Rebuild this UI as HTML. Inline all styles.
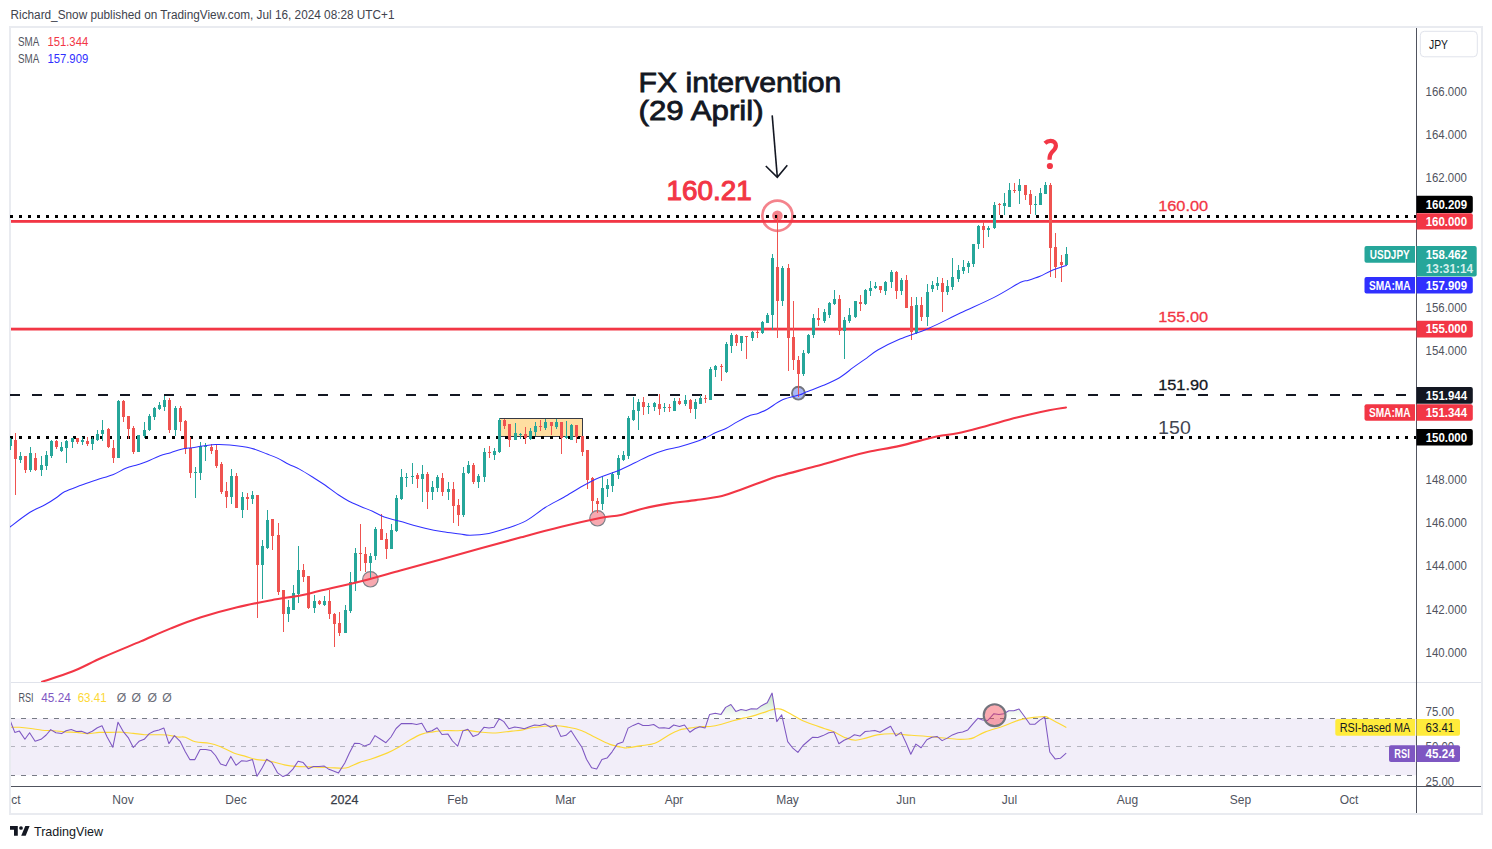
<!DOCTYPE html><html><head><meta charset="utf-8"><title>USDJPY</title><style>html,body{margin:0;padding:0;background:#fff;width:1492px;height:849px;overflow:hidden}svg{display:block}text{font-family:"Liberation Sans",sans-serif}</style></head><body>
<svg width="1492" height="849" viewBox="0 0 1492 849">
<rect x="0" y="0" width="1492" height="849" fill="#fff"/>
<defs><clipPath id="main"><rect x="10" y="28" width="1406" height="654"/></clipPath><clipPath id="rsi"><rect x="11" y="683" width="1405" height="103"/></clipPath><clipPath id="above70"><rect x="11" y="683" width="1405" height="35.5"/></clipPath><linearGradient id="g70" gradientUnits="userSpaceOnUse" x1="0" y1="682" x2="0" y2="718.5"><stop offset="0" stop-color="#4caf50" stop-opacity="0.5"/><stop offset="1" stop-color="#4caf50" stop-opacity="0"/></linearGradient></defs>
<text x="10.5" y="18.8" font-size="12.3" fill="#40434d" textLength="384" lengthAdjust="spacingAndGlyphs">Richard_Snow published on TradingView.com, Jul 16, 2024 08:28 UTC+1</text>
<rect x="10" y="27" width="1472" height="787" fill="none" stroke="#e9ebf0" stroke-width="2"/>
<g clip-path="url(#main)">
<rect x="499.5" y="418.5" width="83" height="18" fill="#ffdea1" stroke="#363a45" stroke-width="1"/>
<circle cx="777.4" cy="215.7" r="15.1" fill="none" stroke="#f26d78" stroke-opacity="0.85" stroke-width="2.7"/>
<circle cx="777.4" cy="215.7" r="5.3" fill="#f26d78" fill-opacity="0.85"/>
<rect x="11" y="220" width="1405" height="2.8" fill="#f23645"/>
<rect x="11" y="327.7" width="1405" height="2.8" fill="#f23645"/>
<line x1="10" y1="216.5" x2="1416" y2="216.5" stroke="#000" stroke-width="3" stroke-dasharray="3 6"/>
<line x1="10" y1="437.5" x2="1416" y2="437.5" stroke="#000" stroke-width="3" stroke-dasharray="3 6"/>
<line x1="10" y1="395" x2="1410" y2="395" stroke="#131722" stroke-width="2.2" stroke-dasharray="10 12"/>
<circle cx="370.4" cy="579.3" r="7.7" fill="#f7a9b0" stroke="#7d7f88" stroke-width="1.2"/>
<circle cx="597.5" cy="518.3" r="7.7" fill="#f7a9b0" stroke="#7d7f88" stroke-width="1.2"/>
<circle cx="798.4" cy="393.2" r="6.4" fill="#a9b8f7" stroke="#72747d" stroke-width="1.9"/>
<rect x="10" y="438" width="1" height="12" fill="#26a69a"/>
<rect x="9" y="439" width="3" height="7" fill="#26a69a"/>
<rect x="15" y="433" width="1" height="62" fill="#ef5350"/>
<rect x="14" y="440" width="3" height="19" fill="#ef5350"/>
<rect x="20" y="452" width="1" height="11" fill="#26a69a"/>
<rect x="19" y="456" width="3" height="4" fill="#26a69a"/>
<rect x="25" y="456" width="1" height="17" fill="#ef5350"/>
<rect x="24" y="456" width="3" height="14" fill="#ef5350"/>
<rect x="30" y="447" width="1" height="25" fill="#26a69a"/>
<rect x="29" y="453" width="3" height="17" fill="#26a69a"/>
<rect x="35" y="453" width="1" height="18" fill="#ef5350"/>
<rect x="34" y="458" width="3" height="12" fill="#ef5350"/>
<rect x="41" y="456" width="1" height="20" fill="#26a69a"/>
<rect x="40" y="465" width="3" height="5" fill="#26a69a"/>
<rect x="46" y="451" width="1" height="19" fill="#26a69a"/>
<rect x="45" y="455" width="3" height="11" fill="#26a69a"/>
<rect x="51" y="440" width="1" height="18" fill="#26a69a"/>
<rect x="50" y="441" width="3" height="15" fill="#26a69a"/>
<rect x="56" y="440" width="1" height="9" fill="#ef5350"/>
<rect x="55" y="441" width="3" height="6" fill="#ef5350"/>
<rect x="61" y="442" width="1" height="10" fill="#26a69a"/>
<rect x="60" y="447" width="3" height="4" fill="#26a69a"/>
<rect x="66" y="440" width="1" height="23" fill="#26a69a"/>
<rect x="65" y="441" width="3" height="7" fill="#26a69a"/>
<rect x="72" y="438" width="1" height="10" fill="#26a69a"/>
<rect x="71" y="438" width="3" height="4" fill="#26a69a"/>
<rect x="77" y="438" width="1" height="6" fill="#ef5350"/>
<rect x="76" y="438" width="3" height="4" fill="#ef5350"/>
<rect x="82" y="437" width="1" height="8" fill="#26a69a"/>
<rect x="81" y="440" width="3" height="2" fill="#26a69a"/>
<rect x="87" y="437" width="1" height="9" fill="#ef5350"/>
<rect x="86" y="441" width="3" height="3" fill="#ef5350"/>
<rect x="92" y="437" width="1" height="13" fill="#26a69a"/>
<rect x="91" y="439" width="3" height="5" fill="#26a69a"/>
<rect x="97" y="430" width="1" height="11" fill="#26a69a"/>
<rect x="96" y="434" width="3" height="6" fill="#26a69a"/>
<rect x="102" y="420" width="1" height="21" fill="#26a69a"/>
<rect x="101" y="430" width="3" height="4" fill="#26a69a"/>
<rect x="108" y="428" width="1" height="20" fill="#ef5350"/>
<rect x="107" y="429" width="3" height="18" fill="#ef5350"/>
<rect x="113" y="440" width="1" height="23" fill="#ef5350"/>
<rect x="112" y="448" width="3" height="10" fill="#ef5350"/>
<rect x="118" y="400" width="1" height="58" fill="#26a69a"/>
<rect x="117" y="401" width="3" height="57" fill="#26a69a"/>
<rect x="123" y="400" width="1" height="22" fill="#ef5350"/>
<rect x="122" y="401" width="3" height="16" fill="#ef5350"/>
<rect x="128" y="416" width="1" height="23" fill="#ef5350"/>
<rect x="127" y="416" width="3" height="13" fill="#ef5350"/>
<rect x="133" y="426" width="1" height="28" fill="#ef5350"/>
<rect x="132" y="428" width="3" height="24" fill="#ef5350"/>
<rect x="138" y="435" width="1" height="17" fill="#26a69a"/>
<rect x="137" y="435" width="3" height="17" fill="#26a69a"/>
<rect x="144" y="422" width="1" height="16" fill="#26a69a"/>
<rect x="143" y="430" width="3" height="6" fill="#26a69a"/>
<rect x="149" y="414" width="1" height="17" fill="#26a69a"/>
<rect x="148" y="416" width="3" height="14" fill="#26a69a"/>
<rect x="154" y="407" width="1" height="13" fill="#26a69a"/>
<rect x="153" y="408" width="3" height="9" fill="#26a69a"/>
<rect x="159" y="402" width="1" height="8" fill="#26a69a"/>
<rect x="158" y="405" width="3" height="4" fill="#26a69a"/>
<rect x="164" y="396" width="1" height="15" fill="#26a69a"/>
<rect x="163" y="400" width="3" height="7" fill="#26a69a"/>
<rect x="169" y="398" width="1" height="35" fill="#ef5350"/>
<rect x="168" y="400" width="3" height="30" fill="#ef5350"/>
<rect x="175" y="406" width="1" height="30" fill="#26a69a"/>
<rect x="174" y="408" width="3" height="22" fill="#26a69a"/>
<rect x="180" y="406" width="1" height="25" fill="#ef5350"/>
<rect x="179" y="408" width="3" height="14" fill="#ef5350"/>
<rect x="185" y="420" width="1" height="34" fill="#ef5350"/>
<rect x="184" y="421" width="3" height="28" fill="#ef5350"/>
<rect x="190" y="437" width="1" height="41" fill="#ef5350"/>
<rect x="189" y="448" width="3" height="25" fill="#ef5350"/>
<rect x="195" y="467" width="1" height="31" fill="#26a69a"/>
<rect x="194" y="472" width="3" height="1" fill="#26a69a"/>
<rect x="200" y="442" width="1" height="38" fill="#26a69a"/>
<rect x="199" y="446" width="3" height="27" fill="#26a69a"/>
<rect x="205" y="443" width="1" height="18" fill="#26a69a"/>
<rect x="204" y="446" width="3" height="1" fill="#26a69a"/>
<rect x="211" y="444" width="1" height="10" fill="#ef5350"/>
<rect x="210" y="447" width="3" height="4" fill="#ef5350"/>
<rect x="216" y="445" width="1" height="23" fill="#ef5350"/>
<rect x="215" y="450" width="3" height="16" fill="#ef5350"/>
<rect x="221" y="462" width="1" height="32" fill="#ef5350"/>
<rect x="220" y="464" width="3" height="28" fill="#ef5350"/>
<rect x="226" y="482" width="1" height="26" fill="#ef5350"/>
<rect x="225" y="491" width="3" height="6" fill="#ef5350"/>
<rect x="231" y="469" width="1" height="35" fill="#26a69a"/>
<rect x="230" y="476" width="3" height="21" fill="#26a69a"/>
<rect x="236" y="473" width="1" height="35" fill="#ef5350"/>
<rect x="235" y="476" width="3" height="32" fill="#ef5350"/>
<rect x="242" y="492" width="1" height="26" fill="#26a69a"/>
<rect x="241" y="497" width="3" height="13" fill="#26a69a"/>
<rect x="247" y="493" width="1" height="17" fill="#ef5350"/>
<rect x="246" y="497" width="3" height="2" fill="#ef5350"/>
<rect x="252" y="491" width="1" height="13" fill="#26a69a"/>
<rect x="251" y="495" width="3" height="4" fill="#26a69a"/>
<rect x="257" y="495" width="1" height="123" fill="#ef5350"/>
<rect x="256" y="495" width="3" height="70" fill="#ef5350"/>
<rect x="262" y="540" width="1" height="59" fill="#26a69a"/>
<rect x="261" y="546" width="3" height="19" fill="#26a69a"/>
<rect x="267" y="510" width="1" height="39" fill="#26a69a"/>
<rect x="266" y="520" width="3" height="28" fill="#26a69a"/>
<rect x="272" y="519" width="1" height="31" fill="#ef5350"/>
<rect x="271" y="519" width="3" height="17" fill="#ef5350"/>
<rect x="278" y="523" width="1" height="72" fill="#ef5350"/>
<rect x="277" y="535" width="3" height="57" fill="#ef5350"/>
<rect x="283" y="590" width="1" height="42" fill="#ef5350"/>
<rect x="282" y="590" width="3" height="24" fill="#ef5350"/>
<rect x="288" y="600" width="1" height="22" fill="#26a69a"/>
<rect x="287" y="607" width="3" height="7" fill="#26a69a"/>
<rect x="293" y="585" width="1" height="25" fill="#26a69a"/>
<rect x="292" y="593" width="3" height="17" fill="#26a69a"/>
<rect x="298" y="546" width="1" height="57" fill="#26a69a"/>
<rect x="297" y="570" width="3" height="24" fill="#26a69a"/>
<rect x="303" y="564" width="1" height="18" fill="#ef5350"/>
<rect x="302" y="570" width="3" height="7" fill="#ef5350"/>
<rect x="308" y="576" width="1" height="33" fill="#ef5350"/>
<rect x="307" y="576" width="3" height="32" fill="#ef5350"/>
<rect x="314" y="595" width="1" height="18" fill="#26a69a"/>
<rect x="313" y="601" width="3" height="7" fill="#26a69a"/>
<rect x="319" y="600" width="1" height="5" fill="#ef5350"/>
<rect x="318" y="601" width="3" height="3" fill="#ef5350"/>
<rect x="324" y="596" width="1" height="10" fill="#26a69a"/>
<rect x="323" y="601" width="3" height="4" fill="#26a69a"/>
<rect x="329" y="590" width="1" height="29" fill="#ef5350"/>
<rect x="328" y="601" width="3" height="13" fill="#ef5350"/>
<rect x="334" y="613" width="1" height="34" fill="#ef5350"/>
<rect x="333" y="614" width="3" height="10" fill="#ef5350"/>
<rect x="339" y="612" width="1" height="24" fill="#ef5350"/>
<rect x="338" y="623" width="3" height="10" fill="#ef5350"/>
<rect x="345" y="605" width="1" height="28" fill="#26a69a"/>
<rect x="344" y="610" width="3" height="23" fill="#26a69a"/>
<rect x="350" y="572" width="1" height="41" fill="#26a69a"/>
<rect x="349" y="582" width="3" height="29" fill="#26a69a"/>
<rect x="355" y="548" width="1" height="43" fill="#26a69a"/>
<rect x="354" y="553" width="3" height="30" fill="#26a69a"/>
<rect x="360" y="524" width="1" height="47" fill="#ef5350"/>
<rect x="359" y="553" width="3" height="1" fill="#ef5350"/>
<rect x="365" y="547" width="1" height="25" fill="#ef5350"/>
<rect x="364" y="554" width="3" height="9" fill="#ef5350"/>
<rect x="370" y="553" width="1" height="26" fill="#26a69a"/>
<rect x="369" y="556" width="3" height="7" fill="#26a69a"/>
<rect x="375" y="527" width="1" height="33" fill="#26a69a"/>
<rect x="374" y="529" width="3" height="27" fill="#26a69a"/>
<rect x="381" y="514" width="1" height="26" fill="#ef5350"/>
<rect x="380" y="529" width="3" height="11" fill="#ef5350"/>
<rect x="386" y="533" width="1" height="26" fill="#ef5350"/>
<rect x="385" y="539" width="3" height="10" fill="#ef5350"/>
<rect x="391" y="524" width="1" height="25" fill="#26a69a"/>
<rect x="390" y="530" width="3" height="19" fill="#26a69a"/>
<rect x="396" y="495" width="1" height="37" fill="#26a69a"/>
<rect x="395" y="498" width="3" height="33" fill="#26a69a"/>
<rect x="401" y="469" width="1" height="31" fill="#26a69a"/>
<rect x="400" y="477" width="3" height="22" fill="#26a69a"/>
<rect x="406" y="473" width="1" height="14" fill="#26a69a"/>
<rect x="405" y="477" width="3" height="1" fill="#26a69a"/>
<rect x="412" y="463" width="1" height="21" fill="#26a69a"/>
<rect x="411" y="476" width="3" height="1" fill="#26a69a"/>
<rect x="417" y="473" width="1" height="15" fill="#ef5350"/>
<rect x="416" y="475" width="3" height="4" fill="#ef5350"/>
<rect x="422" y="465" width="1" height="37" fill="#26a69a"/>
<rect x="421" y="474" width="3" height="5" fill="#26a69a"/>
<rect x="427" y="472" width="1" height="37" fill="#ef5350"/>
<rect x="426" y="474" width="3" height="18" fill="#ef5350"/>
<rect x="432" y="481" width="1" height="19" fill="#26a69a"/>
<rect x="431" y="487" width="3" height="5" fill="#26a69a"/>
<rect x="437" y="475" width="1" height="17" fill="#26a69a"/>
<rect x="436" y="477" width="3" height="11" fill="#26a69a"/>
<rect x="442" y="473" width="1" height="23" fill="#ef5350"/>
<rect x="441" y="478" width="3" height="14" fill="#ef5350"/>
<rect x="448" y="482" width="1" height="18" fill="#26a69a"/>
<rect x="447" y="489" width="3" height="3" fill="#26a69a"/>
<rect x="453" y="482" width="1" height="41" fill="#ef5350"/>
<rect x="452" y="489" width="3" height="17" fill="#ef5350"/>
<rect x="458" y="499" width="1" height="27" fill="#ef5350"/>
<rect x="457" y="505" width="3" height="10" fill="#ef5350"/>
<rect x="463" y="467" width="1" height="50" fill="#26a69a"/>
<rect x="462" y="473" width="3" height="42" fill="#26a69a"/>
<rect x="468" y="461" width="1" height="13" fill="#26a69a"/>
<rect x="467" y="465" width="3" height="8" fill="#26a69a"/>
<rect x="473" y="463" width="1" height="21" fill="#ef5350"/>
<rect x="472" y="465" width="3" height="17" fill="#ef5350"/>
<rect x="478" y="474" width="1" height="14" fill="#26a69a"/>
<rect x="477" y="476" width="3" height="6" fill="#26a69a"/>
<rect x="484" y="448" width="1" height="34" fill="#26a69a"/>
<rect x="483" y="452" width="3" height="25" fill="#26a69a"/>
<rect x="489" y="446" width="1" height="12" fill="#ef5350"/>
<rect x="488" y="452" width="3" height="1" fill="#ef5350"/>
<rect x="494" y="448" width="1" height="12" fill="#26a69a"/>
<rect x="493" y="451" width="3" height="4" fill="#26a69a"/>
<rect x="499" y="418" width="1" height="35" fill="#26a69a"/>
<rect x="498" y="420" width="3" height="32" fill="#26a69a"/>
<rect x="504" y="419" width="1" height="10" fill="#ef5350"/>
<rect x="503" y="420" width="3" height="6" fill="#ef5350"/>
<rect x="509" y="424" width="1" height="23" fill="#ef5350"/>
<rect x="508" y="424" width="3" height="16" fill="#ef5350"/>
<rect x="515" y="423" width="1" height="17" fill="#26a69a"/>
<rect x="514" y="433" width="3" height="7" fill="#26a69a"/>
<rect x="520" y="433" width="1" height="6" fill="#26a69a"/>
<rect x="519" y="434" width="3" height="1" fill="#26a69a"/>
<rect x="525" y="427" width="1" height="17" fill="#ef5350"/>
<rect x="524" y="434" width="3" height="4" fill="#ef5350"/>
<rect x="530" y="428" width="1" height="12" fill="#26a69a"/>
<rect x="529" y="431" width="3" height="8" fill="#26a69a"/>
<rect x="535" y="422" width="1" height="14" fill="#26a69a"/>
<rect x="534" y="426" width="3" height="6" fill="#26a69a"/>
<rect x="540" y="420" width="1" height="11" fill="#ef5350"/>
<rect x="539" y="426" width="3" height="1" fill="#ef5350"/>
<rect x="545" y="419" width="1" height="11" fill="#26a69a"/>
<rect x="544" y="422" width="3" height="6" fill="#26a69a"/>
<rect x="551" y="422" width="1" height="13" fill="#ef5350"/>
<rect x="550" y="422" width="3" height="4" fill="#ef5350"/>
<rect x="556" y="419" width="1" height="10" fill="#26a69a"/>
<rect x="555" y="422" width="3" height="5" fill="#26a69a"/>
<rect x="561" y="422" width="1" height="32" fill="#ef5350"/>
<rect x="560" y="422" width="3" height="16" fill="#ef5350"/>
<rect x="566" y="421" width="1" height="18" fill="#26a69a"/>
<rect x="565" y="436" width="3" height="2" fill="#26a69a"/>
<rect x="571" y="424" width="1" height="16" fill="#26a69a"/>
<rect x="570" y="425" width="3" height="15" fill="#26a69a"/>
<rect x="576" y="425" width="1" height="18" fill="#ef5350"/>
<rect x="575" y="425" width="3" height="12" fill="#ef5350"/>
<rect x="582" y="436" width="1" height="20" fill="#ef5350"/>
<rect x="581" y="436" width="3" height="16" fill="#ef5350"/>
<rect x="587" y="450" width="1" height="39" fill="#ef5350"/>
<rect x="586" y="450" width="3" height="30" fill="#ef5350"/>
<rect x="592" y="477" width="1" height="35" fill="#ef5350"/>
<rect x="591" y="478" width="3" height="23" fill="#ef5350"/>
<rect x="597" y="498" width="1" height="15" fill="#ef5350"/>
<rect x="596" y="501" width="3" height="3" fill="#ef5350"/>
<rect x="602" y="476" width="1" height="34" fill="#26a69a"/>
<rect x="601" y="488" width="3" height="16" fill="#26a69a"/>
<rect x="607" y="479" width="1" height="18" fill="#26a69a"/>
<rect x="606" y="485" width="3" height="4" fill="#26a69a"/>
<rect x="612" y="472" width="1" height="20" fill="#26a69a"/>
<rect x="611" y="474" width="3" height="12" fill="#26a69a"/>
<rect x="618" y="455" width="1" height="24" fill="#26a69a"/>
<rect x="617" y="458" width="3" height="17" fill="#26a69a"/>
<rect x="623" y="451" width="1" height="10" fill="#26a69a"/>
<rect x="622" y="455" width="3" height="5" fill="#26a69a"/>
<rect x="628" y="416" width="1" height="43" fill="#26a69a"/>
<rect x="627" y="418" width="3" height="38" fill="#26a69a"/>
<rect x="633" y="397" width="1" height="24" fill="#26a69a"/>
<rect x="632" y="410" width="3" height="10" fill="#26a69a"/>
<rect x="638" y="399" width="1" height="31" fill="#26a69a"/>
<rect x="637" y="402" width="3" height="9" fill="#26a69a"/>
<rect x="643" y="397" width="1" height="18" fill="#ef5350"/>
<rect x="642" y="402" width="3" height="5" fill="#ef5350"/>
<rect x="648" y="403" width="1" height="11" fill="#26a69a"/>
<rect x="647" y="406" width="3" height="1" fill="#26a69a"/>
<rect x="654" y="402" width="1" height="9" fill="#26a69a"/>
<rect x="653" y="403" width="3" height="4" fill="#26a69a"/>
<rect x="659" y="394" width="1" height="21" fill="#ef5350"/>
<rect x="658" y="404" width="3" height="5" fill="#ef5350"/>
<rect x="664" y="403" width="1" height="9" fill="#26a69a"/>
<rect x="663" y="407" width="3" height="1" fill="#26a69a"/>
<rect x="669" y="404" width="1" height="8" fill="#ef5350"/>
<rect x="668" y="407" width="3" height="1" fill="#ef5350"/>
<rect x="674" y="398" width="1" height="13" fill="#26a69a"/>
<rect x="673" y="401" width="3" height="10" fill="#26a69a"/>
<rect x="679" y="398" width="1" height="7" fill="#ef5350"/>
<rect x="678" y="401" width="3" height="3" fill="#ef5350"/>
<rect x="685" y="395" width="1" height="11" fill="#26a69a"/>
<rect x="684" y="400" width="3" height="4" fill="#26a69a"/>
<rect x="690" y="399" width="1" height="14" fill="#ef5350"/>
<rect x="689" y="400" width="3" height="9" fill="#ef5350"/>
<rect x="695" y="399" width="1" height="20" fill="#26a69a"/>
<rect x="694" y="402" width="3" height="7" fill="#26a69a"/>
<rect x="700" y="395" width="1" height="9" fill="#26a69a"/>
<rect x="699" y="398" width="3" height="6" fill="#26a69a"/>
<rect x="705" y="395" width="1" height="8" fill="#ef5350"/>
<rect x="704" y="398" width="3" height="1" fill="#ef5350"/>
<rect x="710" y="367" width="1" height="33" fill="#26a69a"/>
<rect x="709" y="369" width="3" height="31" fill="#26a69a"/>
<rect x="715" y="365" width="1" height="12" fill="#26a69a"/>
<rect x="714" y="366" width="3" height="4" fill="#26a69a"/>
<rect x="721" y="364" width="1" height="17" fill="#ef5350"/>
<rect x="720" y="366" width="3" height="1" fill="#ef5350"/>
<rect x="726" y="342" width="1" height="31" fill="#26a69a"/>
<rect x="725" y="344" width="3" height="28" fill="#26a69a"/>
<rect x="731" y="333" width="1" height="20" fill="#26a69a"/>
<rect x="730" y="335" width="3" height="11" fill="#26a69a"/>
<rect x="736" y="334" width="1" height="12" fill="#ef5350"/>
<rect x="735" y="335" width="3" height="8" fill="#ef5350"/>
<rect x="741" y="336" width="1" height="15" fill="#26a69a"/>
<rect x="740" y="336" width="3" height="7" fill="#26a69a"/>
<rect x="746" y="336" width="1" height="23" fill="#ef5350"/>
<rect x="745" y="336" width="3" height="1" fill="#ef5350"/>
<rect x="752" y="331" width="1" height="10" fill="#26a69a"/>
<rect x="751" y="332" width="3" height="6" fill="#26a69a"/>
<rect x="757" y="330" width="1" height="8" fill="#ef5350"/>
<rect x="756" y="332" width="3" height="1" fill="#ef5350"/>
<rect x="762" y="321" width="1" height="13" fill="#26a69a"/>
<rect x="761" y="322" width="3" height="11" fill="#26a69a"/>
<rect x="767" y="313" width="1" height="10" fill="#26a69a"/>
<rect x="766" y="315" width="3" height="8" fill="#26a69a"/>
<rect x="772" y="254" width="1" height="76" fill="#26a69a"/>
<rect x="771" y="258" width="3" height="57" fill="#26a69a"/>
<rect x="777" y="215" width="1" height="123" fill="#ef5350"/>
<rect x="776" y="267" width="3" height="34" fill="#ef5350"/>
<rect x="782" y="266" width="1" height="40" fill="#26a69a"/>
<rect x="781" y="268" width="3" height="33" fill="#26a69a"/>
<rect x="788" y="264" width="1" height="107" fill="#ef5350"/>
<rect x="787" y="268" width="3" height="70" fill="#ef5350"/>
<rect x="793" y="301" width="1" height="69" fill="#ef5350"/>
<rect x="792" y="337" width="3" height="23" fill="#ef5350"/>
<rect x="798" y="356" width="1" height="41" fill="#ef5350"/>
<rect x="797" y="360" width="3" height="14" fill="#ef5350"/>
<rect x="803" y="350" width="1" height="26" fill="#26a69a"/>
<rect x="802" y="353" width="3" height="21" fill="#26a69a"/>
<rect x="808" y="334" width="1" height="20" fill="#26a69a"/>
<rect x="807" y="335" width="3" height="18" fill="#26a69a"/>
<rect x="813" y="314" width="1" height="24" fill="#26a69a"/>
<rect x="812" y="318" width="3" height="17" fill="#26a69a"/>
<rect x="818" y="308" width="1" height="18" fill="#ef5350"/>
<rect x="817" y="318" width="3" height="2" fill="#ef5350"/>
<rect x="824" y="309" width="1" height="14" fill="#26a69a"/>
<rect x="823" y="312" width="3" height="9" fill="#26a69a"/>
<rect x="829" y="302" width="1" height="16" fill="#26a69a"/>
<rect x="828" y="303" width="3" height="12" fill="#26a69a"/>
<rect x="834" y="290" width="1" height="15" fill="#26a69a"/>
<rect x="833" y="299" width="3" height="5" fill="#26a69a"/>
<rect x="839" y="295" width="1" height="40" fill="#ef5350"/>
<rect x="838" y="299" width="3" height="32" fill="#ef5350"/>
<rect x="844" y="317" width="1" height="42" fill="#26a69a"/>
<rect x="843" y="320" width="3" height="11" fill="#26a69a"/>
<rect x="849" y="308" width="1" height="15" fill="#26a69a"/>
<rect x="848" y="315" width="3" height="6" fill="#26a69a"/>
<rect x="855" y="301" width="1" height="17" fill="#26a69a"/>
<rect x="854" y="301" width="3" height="16" fill="#26a69a"/>
<rect x="860" y="295" width="1" height="16" fill="#ef5350"/>
<rect x="859" y="302" width="3" height="2" fill="#ef5350"/>
<rect x="865" y="289" width="1" height="16" fill="#26a69a"/>
<rect x="864" y="290" width="3" height="14" fill="#26a69a"/>
<rect x="870" y="281" width="1" height="15" fill="#26a69a"/>
<rect x="869" y="288" width="3" height="3" fill="#26a69a"/>
<rect x="875" y="282" width="1" height="7" fill="#26a69a"/>
<rect x="874" y="286" width="3" height="2" fill="#26a69a"/>
<rect x="880" y="286" width="1" height="7" fill="#ef5350"/>
<rect x="879" y="286" width="3" height="4" fill="#ef5350"/>
<rect x="885" y="281" width="1" height="14" fill="#26a69a"/>
<rect x="884" y="282" width="3" height="9" fill="#26a69a"/>
<rect x="891" y="270" width="1" height="18" fill="#26a69a"/>
<rect x="890" y="272" width="3" height="10" fill="#26a69a"/>
<rect x="896" y="271" width="1" height="28" fill="#ef5350"/>
<rect x="895" y="272" width="3" height="19" fill="#ef5350"/>
<rect x="901" y="278" width="1" height="17" fill="#26a69a"/>
<rect x="900" y="280" width="3" height="11" fill="#26a69a"/>
<rect x="906" y="275" width="1" height="33" fill="#ef5350"/>
<rect x="905" y="280" width="3" height="28" fill="#ef5350"/>
<rect x="911" y="297" width="1" height="43" fill="#ef5350"/>
<rect x="910" y="306" width="3" height="26" fill="#ef5350"/>
<rect x="916" y="297" width="1" height="37" fill="#26a69a"/>
<rect x="915" y="305" width="3" height="28" fill="#26a69a"/>
<rect x="921" y="297" width="1" height="24" fill="#ef5350"/>
<rect x="920" y="305" width="3" height="12" fill="#ef5350"/>
<rect x="927" y="284" width="1" height="42" fill="#26a69a"/>
<rect x="926" y="292" width="3" height="25" fill="#26a69a"/>
<rect x="932" y="281" width="1" height="11" fill="#26a69a"/>
<rect x="931" y="285" width="3" height="4" fill="#26a69a"/>
<rect x="937" y="277" width="1" height="13" fill="#26a69a"/>
<rect x="936" y="283" width="3" height="3" fill="#26a69a"/>
<rect x="942" y="278" width="1" height="34" fill="#ef5350"/>
<rect x="941" y="283" width="3" height="9" fill="#ef5350"/>
<rect x="947" y="280" width="1" height="15" fill="#26a69a"/>
<rect x="946" y="286" width="3" height="6" fill="#26a69a"/>
<rect x="952" y="258" width="1" height="32" fill="#26a69a"/>
<rect x="951" y="277" width="3" height="10" fill="#26a69a"/>
<rect x="958" y="265" width="1" height="17" fill="#26a69a"/>
<rect x="957" y="270" width="3" height="9" fill="#26a69a"/>
<rect x="963" y="260" width="1" height="14" fill="#26a69a"/>
<rect x="962" y="267" width="3" height="4" fill="#26a69a"/>
<rect x="968" y="261" width="1" height="12" fill="#26a69a"/>
<rect x="967" y="263" width="3" height="4" fill="#26a69a"/>
<rect x="973" y="244" width="1" height="23" fill="#26a69a"/>
<rect x="972" y="244" width="3" height="20" fill="#26a69a"/>
<rect x="978" y="225" width="1" height="24" fill="#26a69a"/>
<rect x="977" y="226" width="3" height="18" fill="#26a69a"/>
<rect x="983" y="222" width="1" height="26" fill="#ef5350"/>
<rect x="982" y="226" width="3" height="4" fill="#ef5350"/>
<rect x="988" y="226" width="1" height="11" fill="#26a69a"/>
<rect x="987" y="228" width="3" height="2" fill="#26a69a"/>
<rect x="994" y="202" width="1" height="27" fill="#26a69a"/>
<rect x="993" y="205" width="3" height="23" fill="#26a69a"/>
<rect x="999" y="203" width="1" height="12" fill="#ef5350"/>
<rect x="998" y="204" width="3" height="1" fill="#ef5350"/>
<rect x="1004" y="193" width="1" height="22" fill="#26a69a"/>
<rect x="1003" y="203" width="3" height="3" fill="#26a69a"/>
<rect x="1009" y="183" width="1" height="24" fill="#26a69a"/>
<rect x="1008" y="190" width="3" height="17" fill="#26a69a"/>
<rect x="1014" y="183" width="1" height="10" fill="#ef5350"/>
<rect x="1013" y="190" width="3" height="1" fill="#ef5350"/>
<rect x="1019" y="179" width="1" height="25" fill="#26a69a"/>
<rect x="1018" y="185" width="3" height="6" fill="#26a69a"/>
<rect x="1025" y="185" width="1" height="15" fill="#ef5350"/>
<rect x="1024" y="185" width="3" height="10" fill="#ef5350"/>
<rect x="1030" y="190" width="1" height="24" fill="#ef5350"/>
<rect x="1029" y="194" width="3" height="11" fill="#ef5350"/>
<rect x="1035" y="196" width="1" height="19" fill="#26a69a"/>
<rect x="1034" y="204" width="3" height="1" fill="#26a69a"/>
<rect x="1040" y="188" width="1" height="17" fill="#26a69a"/>
<rect x="1039" y="193" width="3" height="12" fill="#26a69a"/>
<rect x="1045" y="182" width="1" height="12" fill="#26a69a"/>
<rect x="1044" y="185" width="3" height="9" fill="#26a69a"/>
<rect x="1050" y="183" width="1" height="94" fill="#ef5350"/>
<rect x="1049" y="185" width="3" height="63" fill="#ef5350"/>
<rect x="1055" y="233" width="1" height="45" fill="#ef5350"/>
<rect x="1054" y="247" width="3" height="20" fill="#ef5350"/>
<rect x="1061" y="255" width="1" height="27" fill="#ef5350"/>
<rect x="1060" y="262" width="3" height="3" fill="#ef5350"/>
<rect x="1066" y="247" width="1" height="18" fill="#26a69a"/>
<rect x="1065" y="254" width="3" height="11" fill="#26a69a"/>
<path d="M42.1,681.7 C47.1,680.0 62.2,675.6 72.3,671.6 C82.3,667.6 91.0,662.5 102.4,657.5 C113.8,652.5 129.3,646.2 140.7,641.4 C152.1,636.5 160.8,632.4 170.8,628.4 C180.9,624.4 189.9,620.8 201.0,617.3 C212.1,613.8 225.5,610.1 237.2,607.3 C248.9,604.4 260.7,602.2 271.4,600.2 C282.1,598.2 293.4,596.8 301.5,595.2 C309.6,593.6 310.2,593.1 320.0,590.8 C329.8,588.5 346.8,584.9 360.2,581.5 C373.6,578.1 387.0,574.1 400.4,570.4 C413.8,566.7 427.3,563.1 440.7,559.4 C454.1,555.7 467.5,552.0 480.9,548.3 C494.3,544.6 507.7,540.9 521.1,537.3 C534.5,533.7 548.1,530.0 561.3,526.8 C574.4,523.6 590.1,520.0 600.0,518.0 C609.9,516.0 613.6,516.6 620.9,515.0 C628.2,513.4 635.5,510.3 643.6,508.4 C651.7,506.5 661.0,504.8 669.7,503.4 C678.4,502.0 687.2,501.3 695.9,500.1 C704.6,498.9 714.6,497.7 722.0,496.0 C729.4,494.3 731.6,492.9 740.0,489.9 C748.4,486.9 765.1,480.6 772.2,478.1 C779.4,475.6 774.0,477.3 782.9,474.9 C791.8,472.5 815.1,466.6 825.8,463.6 C836.5,460.7 840.1,459.2 847.2,457.2 C854.4,455.2 859.9,453.7 868.7,451.8 C877.5,449.9 888.5,448.4 899.8,445.9 C911.1,443.3 926.9,438.6 936.5,436.5 C946.1,434.4 949.4,435.0 957.4,433.3 C965.4,431.6 974.9,429.0 984.8,426.4 C994.7,423.8 1006.2,420.2 1016.9,417.5 C1027.6,414.8 1040.9,412.0 1049.1,410.3 C1057.3,408.6 1063.2,408.0 1066.0,407.5" fill="none" stroke="#f23645" stroke-width="2.1" stroke-linecap="round"/>
<path d="M10.0,527.0 C13.3,524.5 24.2,516.0 30.0,512.3 C35.8,508.6 40.5,507.3 45.0,504.8 C49.5,502.3 53.8,499.4 57.0,497.2 C60.2,495.0 60.5,493.8 64.5,491.8 C68.5,489.8 75.7,487.3 81.0,485.3 C86.3,483.3 91.0,481.8 96.3,480.0 C101.6,478.2 107.9,476.6 112.8,474.7 C117.7,472.8 121.7,470.0 125.8,468.3 C129.9,466.6 134.1,465.8 137.6,464.7 C141.1,463.6 143.3,463.0 147.0,461.5 C150.7,460.0 156.1,457.2 160.0,455.7 C163.9,454.2 167.1,453.8 170.7,452.7 C174.3,451.6 177.8,450.1 181.4,449.3 C185.0,448.5 188.6,448.2 192.2,447.7 C195.8,447.2 199.0,446.6 202.9,446.1 C206.8,445.6 211.3,444.7 215.8,444.5 C220.3,444.3 223.8,444.4 229.7,445.0 C235.6,445.6 244.9,446.7 251.2,448.2 C257.4,449.7 262.7,452.4 267.2,454.1 C271.7,455.8 274.4,456.7 278.0,458.4 C281.6,460.1 285.1,462.5 288.7,464.3 C292.3,466.1 295.2,466.9 299.4,469.1 C303.5,471.3 309.3,475.0 313.6,477.7 C317.9,480.4 321.2,482.4 325.3,485.3 C329.4,488.2 334.4,492.2 338.3,494.8 C342.2,497.4 345.2,499.2 348.9,501.2 C352.6,503.1 356.8,504.8 360.7,506.5 C364.6,508.2 368.6,509.5 372.5,511.3 C376.4,513.1 379.6,515.4 384.2,517.1 C388.8,518.8 393.2,519.4 400.0,521.3 C406.8,523.2 417.8,526.5 425.0,528.3 C432.2,530.0 437.2,530.9 443.0,531.8 C448.8,532.7 455.5,533.3 460.0,533.9 C464.5,534.5 465.3,535.4 470.1,535.3 C474.9,535.2 482.6,534.6 488.9,533.4 C495.2,532.2 501.4,530.2 507.7,528.1 C514.0,526.0 520.1,524.0 526.4,520.6 C532.6,517.2 539.0,511.4 545.2,507.5 C551.5,503.6 557.6,500.8 563.9,497.2 C570.1,493.6 576.8,489.3 582.7,486.0 C588.7,482.7 593.8,480.0 599.6,477.5 C605.4,475.0 611.5,473.4 617.4,471.0 C623.3,468.6 629.7,465.3 634.9,462.8 C640.1,460.3 643.5,458.1 648.7,455.9 C653.9,453.7 661.0,451.3 666.0,449.8 C671.0,448.3 673.8,448.2 678.8,446.9 C683.8,445.5 691.4,443.2 695.8,441.7 C700.2,440.2 701.8,439.5 705.2,437.9 C708.7,436.3 713.0,433.9 716.5,432.3 C720.0,430.7 722.4,430.2 725.9,428.5 C729.4,426.8 733.1,424.1 737.2,421.9 C741.3,419.7 746.9,416.7 750.4,415.3 C753.9,413.9 755.2,414.4 758.0,413.4 C760.8,412.4 763.3,411.5 767.4,409.2 C771.5,406.9 777.1,402.2 782.5,399.8 C787.9,397.4 796.1,396.1 800.0,394.8 C803.9,393.5 802.0,393.7 805.9,392.1 C809.8,390.5 818.0,387.7 823.6,385.3 C829.2,382.9 834.6,380.6 839.5,377.7 C844.4,374.8 848.8,370.8 853.0,367.7 C857.2,364.6 860.7,362.3 864.8,359.4 C868.9,356.4 871.9,353.4 877.8,350.0 C883.7,346.6 891.5,342.6 900.0,339.0 C908.5,335.4 919.0,332.5 929.0,328.2 C939.0,323.9 949.4,318.2 960.3,313.1 C971.1,308.0 984.0,302.5 994.1,297.4 C1004.2,292.3 1015.0,285.1 1020.6,282.3 C1026.2,279.5 1024.7,281.5 1027.9,280.5 C1031.1,279.5 1036.2,277.9 1040.0,276.3 C1043.8,274.7 1046.4,272.7 1050.8,270.9 C1055.2,269.1 1063.9,266.3 1066.5,265.4" fill="none" stroke="#3030ff" stroke-width="1.05" stroke-linecap="round"/>
<text x="638.6" y="91.8" font-size="27.5" fill="#131722" textLength="202.8" lengthAdjust="spacingAndGlyphs" stroke="#131722" stroke-width="0.8">FX intervention</text>
<text x="638.6" y="119.8" font-size="27.5" fill="#131722" textLength="125" lengthAdjust="spacingAndGlyphs" stroke="#131722" stroke-width="0.8">(29 April)</text>
<path d="M772.2,115.4 L777.3,177" stroke="#131722" stroke-width="1.6" fill="none"/>
<path d="M765.8,166 L777.3,177.3 L787.3,165.3" stroke="#131722" stroke-width="1.6" fill="none" stroke-linejoin="miter"/>
<text x="666.6" y="199.8" font-size="27.5" fill="#f23645" textLength="85" lengthAdjust="spacingAndGlyphs" stroke="#f23645" stroke-width="1.1">160.21</text>
<path d="M1044.9,143.2 C1046.8,141.4 1048.8,140.9 1050.6,140.9 C1054,140.9 1055.9,143 1055.9,145.8 C1055.9,148.8 1053.6,150.6 1051.6,152.6 C1049.9,154.4 1049.4,156.2 1049.5,159.7" fill="none" stroke="#f23645" stroke-width="4.2"/>
<circle cx="1049.9" cy="166" r="3.1" fill="#f23645"/>
<text x="1158.2" y="210.8" font-size="15.5" fill="#f23645" textLength="50" lengthAdjust="spacingAndGlyphs" stroke="#f23645" stroke-width="0.3">160.00</text>
<text x="1158.2" y="321.8" font-size="15.5" fill="#f23645" textLength="50" lengthAdjust="spacingAndGlyphs" stroke="#f23645" stroke-width="0.3">155.00</text>
<text x="1158.2" y="389.9" font-size="15.5" fill="#131722" textLength="50" lengthAdjust="spacingAndGlyphs" stroke="#131722" stroke-width="0.3">151.90</text>
<text x="1158.1" y="433.6" font-size="18" fill="#434651" textLength="32.7" lengthAdjust="spacingAndGlyphs">150</text>
<text x="18" y="45.8" font-size="12" fill="#50535e" textLength="21.3" lengthAdjust="spacingAndGlyphs">SMA</text>
<text x="47.4" y="45.8" font-size="12" fill="#f23645" textLength="40.8" lengthAdjust="spacingAndGlyphs">151.344</text>
<text x="18" y="62.7" font-size="12" fill="#50535e" textLength="21.3" lengthAdjust="spacingAndGlyphs">SMA</text>
<text x="47.4" y="62.7" font-size="12" fill="#3030ff" textLength="40.8" lengthAdjust="spacingAndGlyphs">157.909</text>
</g>
<rect x="11" y="682" width="1470" height="1" fill="#e0e3eb"/>
<rect x="1416" y="28" width="1" height="785" fill="#50535e"/>
<rect x="11" y="786" width="1470" height="1" fill="#50535e"/>
<rect x="1420.3" y="31.3" width="57" height="25.5" rx="4" fill="#fff" stroke="#e0e3eb" stroke-width="1"/>
<text x="1429" y="48.5" font-size="12" fill="#131722" textLength="19" lengthAdjust="spacingAndGlyphs">JPY</text>
<text x="1425.6" y="96.0" font-size="12" fill="#50535e" textLength="41.3" lengthAdjust="spacingAndGlyphs">166.000</text>
<text x="1425.6" y="139.1" font-size="12" fill="#50535e" textLength="41.3" lengthAdjust="spacingAndGlyphs">164.000</text>
<text x="1425.6" y="182.3" font-size="12" fill="#50535e" textLength="41.3" lengthAdjust="spacingAndGlyphs">162.000</text>
<text x="1425.6" y="311.6" font-size="12" fill="#50535e" textLength="41.3" lengthAdjust="spacingAndGlyphs">156.000</text>
<text x="1425.6" y="354.8" font-size="12" fill="#50535e" textLength="41.3" lengthAdjust="spacingAndGlyphs">154.000</text>
<text x="1425.6" y="484.2" font-size="12" fill="#50535e" textLength="41.3" lengthAdjust="spacingAndGlyphs">148.000</text>
<text x="1425.6" y="527.3" font-size="12" fill="#50535e" textLength="41.3" lengthAdjust="spacingAndGlyphs">146.000</text>
<text x="1425.6" y="570.4" font-size="12" fill="#50535e" textLength="41.3" lengthAdjust="spacingAndGlyphs">144.000</text>
<text x="1425.6" y="613.6" font-size="12" fill="#50535e" textLength="41.3" lengthAdjust="spacingAndGlyphs">142.000</text>
<text x="1425.6" y="656.7" font-size="12" fill="#50535e" textLength="41.3" lengthAdjust="spacingAndGlyphs">140.000</text>
<path d="M1416.5,195.8 H1470.8 Q1472.8,195.8 1472.8,197.8 V211.1 Q1472.8,213.1 1470.8,213.1 H1416.5 Z" fill="#000"/>
<text x="1425.7" y="208.8" font-size="12" fill="#fff" font-weight="bold" textLength="41.4" lengthAdjust="spacingAndGlyphs">160.209</text>
<path d="M1416.5,213.3 H1470.8 Q1472.8,213.3 1472.8,215.3 V227.6 Q1472.8,229.6 1470.8,229.6 H1416.5 Z" fill="#f23645"/>
<text x="1425.7" y="225.8" font-size="12" fill="#fff" font-weight="bold" textLength="41.4" lengthAdjust="spacingAndGlyphs">160.000</text>
<path d="M1416.5,246.1 H1474.7 Q1476.7,246.1 1476.7,248.1 V274.5 Q1476.7,276.5 1474.7,276.5 H1416.5 Z" fill="#26a69a"/>
<text x="1425.7" y="259.0" font-size="12" fill="#fff" font-weight="bold" textLength="41.4" lengthAdjust="spacingAndGlyphs">158.462</text>
<text x="1425.7" y="273.3" font-size="12" fill="#d4efec" font-weight="bold" textLength="47.5" lengthAdjust="spacingAndGlyphs">13:31:14</text>
<path d="M1415,246.1 H1366.5 Q1364.5,246.1 1364.5,248.1 V260.8 Q1364.5,262.8 1366.5,262.8 H1415 Z" fill="#26a69a"/>
<text x="1389.75" y="258.8" font-size="12" fill="#fff" font-weight="bold" text-anchor="middle" textLength="40" lengthAdjust="spacingAndGlyphs">USDJPY</text>
<path d="M1416.5,277.0 H1470.8 Q1472.8,277.0 1472.8,279.0 V291.6 Q1472.8,293.6 1470.8,293.6 H1416.5 Z" fill="#3030ff"/>
<text x="1425.7" y="289.6" font-size="12" fill="#fff" font-weight="bold" textLength="41.4" lengthAdjust="spacingAndGlyphs">157.909</text>
<path d="M1415,277.0 H1366.5 Q1364.5,277.0 1364.5,279.0 V291.6 Q1364.5,293.6 1366.5,293.6 H1415 Z" fill="#3030ff"/>
<text x="1389.75" y="289.6" font-size="12" fill="#fff" font-weight="bold" text-anchor="middle" textLength="41.6" lengthAdjust="spacingAndGlyphs">SMA:MA</text>
<path d="M1416.5,320.8 H1470.8 Q1472.8,320.8 1472.8,322.8 V335.4 Q1472.8,337.4 1470.8,337.4 H1416.5 Z" fill="#f23645"/>
<text x="1425.7" y="333.4" font-size="12" fill="#fff" font-weight="bold" textLength="41.4" lengthAdjust="spacingAndGlyphs">155.000</text>
<path d="M1416.5,387.1 H1470.8 Q1472.8,387.1 1472.8,389.1 V401.7 Q1472.8,403.7 1470.8,403.7 H1416.5 Z" fill="#131722"/>
<text x="1425.7" y="399.7" font-size="12" fill="#fff" font-weight="bold" textLength="41.4" lengthAdjust="spacingAndGlyphs">151.944</text>
<path d="M1416.5,404.2 H1470.8 Q1472.8,404.2 1472.8,406.2 V418.8 Q1472.8,420.8 1470.8,420.8 H1416.5 Z" fill="#f23645"/>
<text x="1425.7" y="416.8" font-size="12" fill="#fff" font-weight="bold" textLength="41.4" lengthAdjust="spacingAndGlyphs">151.344</text>
<path d="M1415,404.2 H1366.5 Q1364.5,404.2 1364.5,406.2 V418.8 Q1364.5,420.8 1366.5,420.8 H1415 Z" fill="#f23645"/>
<text x="1389.75" y="416.8" font-size="12" fill="#fff" font-weight="bold" text-anchor="middle" textLength="41.6" lengthAdjust="spacingAndGlyphs">SMA:MA</text>
<path d="M1416.5,429.1 H1470.8 Q1472.8,429.1 1472.8,431.1 V443.5 Q1472.8,445.5 1470.8,445.5 H1416.5 Z" fill="#000"/>
<text x="1425.7" y="441.6" font-size="12" fill="#fff" font-weight="bold" textLength="41.4" lengthAdjust="spacingAndGlyphs">150.000</text>
<g clip-path="url(#rsi)">
<rect x="11" y="718.5" width="1405" height="56.7" fill="#7e57c2" fill-opacity="0.1"/>
<line x1="10" y1="718.5" x2="1416" y2="718.5" stroke="#787b86" stroke-width="1" stroke-dasharray="5 6"/>
<line x1="10" y1="746.5" x2="1416" y2="746.5" stroke="#787b86" stroke-opacity="0.5" stroke-width="1" stroke-dasharray="5 6"/>
<line x1="10" y1="775.5" x2="1416" y2="775.5" stroke="#787b86" stroke-width="1" stroke-dasharray="5 6"/>
<g clip-path="url(#above70)"><polygon points="10.3,718.5 10.3,721.0 14.8,732.4 19.4,731.1 24.9,739.3 29.6,732.7 35.1,741.3 41.0,739.3 46.2,735.0 50.7,729.6 55.9,732.8 61.6,733.6 66.1,730.7 71.2,729.6 76.4,731.5 81.5,731.3 87.2,733.6 92.3,731.3 97.4,727.7 102.0,725.8 107.1,737.0 112.8,747.3 118.0,722.2 123.1,731.3 128.2,737.6 133.3,747.5 139.0,741.3 144.2,739.3 149.3,733.6 153.9,731.3 159.0,729.9 163.9,728.1 168.9,743.6 174.4,735.6 180.1,741.3 185.3,751.8 189.8,759.6 194.9,759.6 200.1,749.5 205.8,749.5 210.9,750.4 215.5,755.5 220.6,764.1 226.0,765.7 230.8,756.4 236.0,765.3 241.7,760.7 246.8,761.2 252.5,759.6 257.0,776.3 262.2,767.8 266.7,759.2 271.9,762.6 277.6,772.9 283.0,776.6 287.8,774.4 292.9,769.1 298.1,761.2 303.2,762.6 308.3,768.7 313.4,766.4 319.1,766.6 324.3,766.1 328.3,768.9 333.5,770.9 338.5,772.9 344.8,763.0 349.4,753.0 354.5,743.3 359.7,743.6 364.8,746.1 369.9,744.1 375.0,735.6 380.2,739.0 385.9,742.7 391.0,737.0 396.1,728.5 401.3,723.6 406.4,723.6 411.5,723.6 416.6,724.5 421.8,723.3 426.9,731.9 432.0,730.7 437.1,727.7 442.0,734.5 448.0,734.1 452.5,741.0 457.7,746.1 462.8,731.1 467.9,729.2 473.0,736.4 478.2,734.5 483.9,727.3 489.0,727.9 494.1,727.3 499.2,718.8 503.8,721.6 508.9,728.8 514.7,727.0 519.8,727.7 524.4,728.8 529.5,726.7 534.6,725.0 539.8,725.4 544.9,723.9 550.6,727.3 555.9,725.4 560.8,736.4 566.0,735.3 571.1,730.7 576.2,738.7 581.9,747.3 586.5,759.2 591.6,767.8 596.7,768.9 601.9,759.6 607.0,758.1 612.1,751.8 617.2,744.1 622.9,742.1 628.1,728.1 633.2,725.4 638.3,723.3 642.9,725.4 648.6,725.6 653.7,724.5 658.8,727.9 664.0,727.7 669.1,728.5 673.7,725.0 679.4,726.5 684.5,725.0 689.9,732.2 694.8,728.8 699.9,726.7 705.1,727.9 709.6,714.4 715.3,713.3 721.0,714.4 725.6,707.4 730.9,704.5 735.8,711.4 741.0,709.4 746.1,710.6 751.2,708.7 756.9,709.1 761.5,705.7 767.2,702.8 772.1,693.1 776.8,721.6 781.7,714.8 787.7,741.6 792.5,747.8 797.9,752.4 803.0,745.5 808.2,741.0 812.7,737.2 817.9,737.6 823.0,735.6 828.7,732.7 833.8,731.9 838.9,743.8 844.1,740.2 849.3,738.1 854.4,734.7 859.9,736.1 865.2,731.5 870.3,731.1 874.9,730.4 880.0,732.2 885.2,729.2 890.6,726.2 896.0,735.9 901.1,732.4 906.2,743.3 910.8,754.3 915.9,744.1 921.1,747.8 926.8,739.8 931.9,737.2 937.0,736.4 942.1,740.6 947.3,738.1 952.4,734.9 958.1,732.7 962.6,731.9 967.8,729.9 972.9,723.9 978.0,718.2 982.6,720.1 987.7,720.5 993.9,713.7 998.9,714.6 1003.8,713.7 1008.8,710.7 1013.8,710.7 1019.0,709.0 1024.3,716.2 1029.9,724.3 1034.8,724.3 1039.8,720.1 1044.8,717.0 1049.8,752.0 1055.1,758.9 1060.3,758.3 1066.2,753.1 1066.2,718.5" fill="url(#g70)"/></g>
<path d="M10.3,727.3 C11.8,727.3 16.0,727.1 19.4,727.3 C22.8,727.5 27.0,728.0 30.8,728.5 C34.6,729.0 38.4,729.8 42.2,730.2 C46.0,730.6 49.8,730.4 53.6,730.7 C57.4,731.0 61.2,731.6 65.0,731.9 C68.8,732.2 72.6,732.1 76.4,732.4 C80.2,732.7 84.0,733.6 87.8,733.6 C91.6,733.6 95.4,732.6 99.2,732.4 C103.0,732.2 106.8,732.4 110.6,732.4 C114.4,732.4 118.1,732.0 121.9,732.2 C125.7,732.4 129.5,733.0 133.3,733.4 C137.1,733.8 140.9,734.5 144.7,734.7 C148.5,734.9 152.3,734.7 156.1,734.7 C159.9,734.8 163.9,734.6 167.5,735.0 C171.1,735.4 174.8,736.6 177.8,737.0 C180.8,737.4 182.4,736.4 185.3,737.2 C188.2,738.0 191.5,740.8 195.5,741.8 C199.5,742.8 205.0,742.5 209.2,743.3 C213.4,744.1 216.4,745.1 220.6,746.7 C224.8,748.4 230.1,751.6 234.3,753.2 C238.5,754.8 241.8,755.3 245.6,756.4 C249.4,757.5 253.2,758.9 257.0,759.6 C260.8,760.3 263.8,759.8 268.4,760.7 C273.0,761.6 279.8,764.0 284.4,764.9 C289.0,765.8 291.2,766.1 295.8,766.4 C300.4,766.7 306.4,766.7 311.7,766.9 C317.0,767.1 322.6,767.3 327.7,767.5 C332.8,767.7 338.5,768.3 342.0,768.3 C345.5,768.2 345.9,768.2 348.8,767.2 C351.7,766.2 355.5,763.9 359.1,762.6 C362.7,761.3 365.8,760.8 370.5,759.2 C375.2,757.6 382.9,754.9 387.6,752.9 C392.4,750.9 395.2,749.2 399.0,747.0 C402.8,744.8 406.6,741.9 410.4,739.8 C414.2,737.6 418.0,735.4 421.8,734.1 C425.6,732.8 429.4,732.5 433.2,731.9 C437.0,731.3 440.8,730.7 444.6,730.5 C448.4,730.3 452.2,730.7 456.0,730.7 C459.8,730.7 463.5,730.2 467.3,730.4 C471.1,730.6 474.3,731.5 478.7,731.9 C483.1,732.3 488.0,733.1 493.5,733.0 C499.0,732.9 506.9,731.6 511.8,731.1 C516.7,730.6 519.4,730.5 522.7,729.9 C526.0,729.3 526.5,728.4 531.8,727.7 C537.1,727.0 548.5,725.9 554.6,725.8 C560.7,725.7 563.8,726.5 568.3,727.3 C572.8,728.1 577.3,729.0 581.9,730.7 C586.5,732.4 591.0,735.4 595.6,737.6 C600.2,739.8 604.8,742.5 609.3,744.1 C613.8,745.8 619.9,746.9 622.9,747.5 C625.9,748.1 624.6,748.1 627.5,747.8 C630.4,747.5 635.4,746.6 640.0,745.9 C644.6,745.1 650.1,745.1 654.9,743.3 C659.6,741.5 664.5,737.5 668.5,735.3 C672.5,733.1 675.6,731.3 678.8,730.2 C681.9,729.1 684.1,729.1 687.4,728.5 C690.7,727.9 695.0,727.0 698.8,726.7 C702.6,726.4 706.4,726.9 710.2,726.5 C714.0,726.1 717.8,725.2 721.6,724.2 C725.4,723.2 729.2,721.8 733.0,720.8 C736.8,719.8 740.6,718.8 744.4,717.9 C748.2,717.0 752.0,716.2 755.8,715.1 C759.6,714.0 764.2,712.4 767.2,711.4 C770.2,710.4 771.7,709.5 774.0,709.1 C776.3,708.7 778.1,708.4 780.8,709.1 C783.4,709.9 786.5,711.8 789.9,713.6 C793.3,715.4 797.5,718.1 801.3,719.9 C805.1,721.7 808.9,723.1 812.7,724.5 C816.5,725.9 820.7,727.3 824.1,728.5 C827.5,729.7 829.6,729.9 833.2,731.5 C836.8,733.1 842.1,736.4 845.8,737.9 C849.5,739.4 852.2,740.2 855.5,740.2 C858.8,740.2 862.2,739.0 865.8,738.1 C869.4,737.2 872.7,735.6 877.2,734.9 C881.8,734.2 887.4,733.7 893.1,733.8 C898.8,733.9 904.5,734.8 911.4,735.3 C918.2,735.8 926.6,736.3 934.2,737.0 C941.8,737.7 951.3,739.0 957.0,739.3 C962.7,739.6 965.5,739.3 968.3,739.0 C971.1,738.7 971.1,738.8 974.0,737.6 C976.9,736.4 980.3,733.9 985.4,731.9 C990.5,729.9 998.8,727.7 1004.4,725.7 C1010.0,723.7 1014.7,721.4 1018.8,720.1 C1022.9,718.8 1024.5,718.7 1028.8,718.1 C1033.0,717.5 1041.0,716.6 1044.3,716.6 C1047.6,716.6 1045.1,716.3 1048.7,718.1 C1052.3,719.9 1063.0,725.8 1065.9,727.3" fill="none" stroke="#fdd835" stroke-width="1.15" stroke-linecap="round"/>
<polyline points="10.3,721.0 14.8,732.4 19.4,731.1 24.9,739.3 29.6,732.7 35.1,741.3 41.0,739.3 46.2,735.0 50.7,729.6 55.9,732.8 61.6,733.6 66.1,730.7 71.2,729.6 76.4,731.5 81.5,731.3 87.2,733.6 92.3,731.3 97.4,727.7 102.0,725.8 107.1,737.0 112.8,747.3 118.0,722.2 123.1,731.3 128.2,737.6 133.3,747.5 139.0,741.3 144.2,739.3 149.3,733.6 153.9,731.3 159.0,729.9 163.9,728.1 168.9,743.6 174.4,735.6 180.1,741.3 185.3,751.8 189.8,759.6 194.9,759.6 200.1,749.5 205.8,749.5 210.9,750.4 215.5,755.5 220.6,764.1 226.0,765.7 230.8,756.4 236.0,765.3 241.7,760.7 246.8,761.2 252.5,759.6 257.0,776.3 262.2,767.8 266.7,759.2 271.9,762.6 277.6,772.9 283.0,776.6 287.8,774.4 292.9,769.1 298.1,761.2 303.2,762.6 308.3,768.7 313.4,766.4 319.1,766.6 324.3,766.1 328.3,768.9 333.5,770.9 338.5,772.9 344.8,763.0 349.4,753.0 354.5,743.3 359.7,743.6 364.8,746.1 369.9,744.1 375.0,735.6 380.2,739.0 385.9,742.7 391.0,737.0 396.1,728.5 401.3,723.6 406.4,723.6 411.5,723.6 416.6,724.5 421.8,723.3 426.9,731.9 432.0,730.7 437.1,727.7 442.0,734.5 448.0,734.1 452.5,741.0 457.7,746.1 462.8,731.1 467.9,729.2 473.0,736.4 478.2,734.5 483.9,727.3 489.0,727.9 494.1,727.3 499.2,718.8 503.8,721.6 508.9,728.8 514.7,727.0 519.8,727.7 524.4,728.8 529.5,726.7 534.6,725.0 539.8,725.4 544.9,723.9 550.6,727.3 555.9,725.4 560.8,736.4 566.0,735.3 571.1,730.7 576.2,738.7 581.9,747.3 586.5,759.2 591.6,767.8 596.7,768.9 601.9,759.6 607.0,758.1 612.1,751.8 617.2,744.1 622.9,742.1 628.1,728.1 633.2,725.4 638.3,723.3 642.9,725.4 648.6,725.6 653.7,724.5 658.8,727.9 664.0,727.7 669.1,728.5 673.7,725.0 679.4,726.5 684.5,725.0 689.9,732.2 694.8,728.8 699.9,726.7 705.1,727.9 709.6,714.4 715.3,713.3 721.0,714.4 725.6,707.4 730.9,704.5 735.8,711.4 741.0,709.4 746.1,710.6 751.2,708.7 756.9,709.1 761.5,705.7 767.2,702.8 772.1,693.1 776.8,721.6 781.7,714.8 787.7,741.6 792.5,747.8 797.9,752.4 803.0,745.5 808.2,741.0 812.7,737.2 817.9,737.6 823.0,735.6 828.7,732.7 833.8,731.9 838.9,743.8 844.1,740.2 849.3,738.1 854.4,734.7 859.9,736.1 865.2,731.5 870.3,731.1 874.9,730.4 880.0,732.2 885.2,729.2 890.6,726.2 896.0,735.9 901.1,732.4 906.2,743.3 910.8,754.3 915.9,744.1 921.1,747.8 926.8,739.8 931.9,737.2 937.0,736.4 942.1,740.6 947.3,738.1 952.4,734.9 958.1,732.7 962.6,731.9 967.8,729.9 972.9,723.9 978.0,718.2 982.6,720.1 987.7,720.5 993.9,713.7 998.9,714.6 1003.8,713.7 1008.8,710.7 1013.8,710.7 1019.0,709.0 1024.3,716.2 1029.9,724.3 1034.8,724.3 1039.8,720.1 1044.8,717.0 1049.8,752.0 1055.1,758.9 1060.3,758.3 1066.2,753.1" fill="none" stroke="#7e57c2" stroke-width="1.05" stroke-linejoin="round"/>
<circle cx="994.6" cy="715.2" r="10.9" fill="#f23645" fill-opacity="0.42" stroke="#72747d" stroke-width="2.1"/>
</g>
<text x="18.5" y="701.8" font-size="12" fill="#50535e" textLength="15.1" lengthAdjust="spacingAndGlyphs">RSI</text>
<text x="41.3" y="701.8" font-size="12" fill="#7e57c2" textLength="29.4" lengthAdjust="spacingAndGlyphs">45.24</text>
<text x="77.7" y="701.8" font-size="12" fill="#fdd835" textLength="28.9" lengthAdjust="spacingAndGlyphs">63.41</text>
<text x="116.7" y="701.8" font-size="12" fill="#6a6d78" textLength="9.5" lengthAdjust="spacingAndGlyphs">Ø</text>
<text x="131.5" y="701.8" font-size="12" fill="#6a6d78" textLength="9.5" lengthAdjust="spacingAndGlyphs">Ø</text>
<text x="147.4" y="701.8" font-size="12" fill="#6a6d78" textLength="9.5" lengthAdjust="spacingAndGlyphs">Ø</text>
<text x="162.3" y="701.8" font-size="12" fill="#6a6d78" textLength="9.5" lengthAdjust="spacingAndGlyphs">Ø</text>
<text x="1425.6" y="716" font-size="12" fill="#50535e" textLength="28.5" lengthAdjust="spacingAndGlyphs">75.00</text>
<text x="1425.6" y="750.8" font-size="12" fill="#50535e" textLength="28.5" lengthAdjust="spacingAndGlyphs">50.00</text>
<clipPath id="r25"><rect x="1417" y="683" width="64" height="103"/></clipPath>
<text x="1425.6" y="786" font-size="12" fill="#50535e" textLength="28.5" lengthAdjust="spacingAndGlyphs" clip-path="url(#r25)">25.00</text>
<path d="M1416.5,719.1 H1458 Q1460,719.1 1460,721.1 V733.7 Q1460,735.7 1458,735.7 H1416.5 Z" fill="#ffeb3b"/>
<path d="M1415,719.1 H1337.3 Q1335.3,719.1 1335.3,721.1 V733.7 Q1335.3,735.7 1337.3,735.7 H1415 Z" fill="#ffeb3b"/>
<text x="1375" y="731.7" font-size="12" fill="#131722" text-anchor="middle" textLength="70.5" lengthAdjust="spacingAndGlyphs">RSI-based MA</text>
<text x="1425.6" y="731.7" font-size="12" fill="#131722" textLength="28.5" lengthAdjust="spacingAndGlyphs">63.41</text>
<path d="M1416.5,745.2 H1458 Q1460,745.2 1460,747.2 V759.9 Q1460,761.9 1458,761.9 H1416.5 Z" fill="#7e57c2"/>
<path d="M1415,745.2 H1391 Q1389,745.2 1389,747.2 V759.9 Q1389,761.9 1391,761.9 H1415 Z" fill="#7e57c2"/>
<text x="1402" y="757.8" font-size="12" fill="#fff" font-weight="bold" text-anchor="middle" textLength="15.5" lengthAdjust="spacingAndGlyphs">RSI</text>
<text x="1425.6" y="757.8" font-size="12" fill="#fff" font-weight="bold" textLength="29" lengthAdjust="spacingAndGlyphs">45.24</text>
<text x="123" y="804.2" font-size="12" fill="#50535e" text-anchor="middle">Nov</text>
<text x="236" y="804.2" font-size="12" fill="#50535e" text-anchor="middle">Dec</text>
<text x="457.5" y="804.2" font-size="12" fill="#50535e" text-anchor="middle">Feb</text>
<text x="565.5" y="804.2" font-size="12" fill="#50535e" text-anchor="middle">Mar</text>
<text x="674" y="804.2" font-size="12" fill="#50535e" text-anchor="middle">Apr</text>
<text x="787.5" y="804.2" font-size="12" fill="#50535e" text-anchor="middle">May</text>
<text x="906" y="804.2" font-size="12" fill="#50535e" text-anchor="middle">Jun</text>
<text x="1009.5" y="804.2" font-size="12" fill="#50535e" text-anchor="middle">Jul</text>
<text x="1127.5" y="804.2" font-size="12" fill="#50535e" text-anchor="middle">Aug</text>
<text x="1240.5" y="804.2" font-size="12" fill="#50535e" text-anchor="middle">Sep</text>
<text x="1349" y="804.2" font-size="12" fill="#50535e" text-anchor="middle">Oct</text>
<text x="344.5" y="804.2" font-size="12.5" fill="#363a45" text-anchor="middle" stroke="#363a45" stroke-width="0.25">2024</text>
<clipPath id="tax"><rect x="11" y="787" width="1405" height="26"/></clipPath>
<text x="2" y="804.2" font-size="12" fill="#50535e" clip-path="url(#tax)">Oct</text>
<g fill="#131722"><path d="M10,826.1 H17.8 V835.7 H14 V829.7 H10 Z"/><circle cx="21" cy="828" r="1.85"/><path d="M25.3,826.1 H29.6 L25.7,835.7 H21.2 Z"/></g>
<text x="34" y="836" font-size="13" fill="#131722" textLength="69" lengthAdjust="spacingAndGlyphs">TradingView</text>
</svg></body></html>
